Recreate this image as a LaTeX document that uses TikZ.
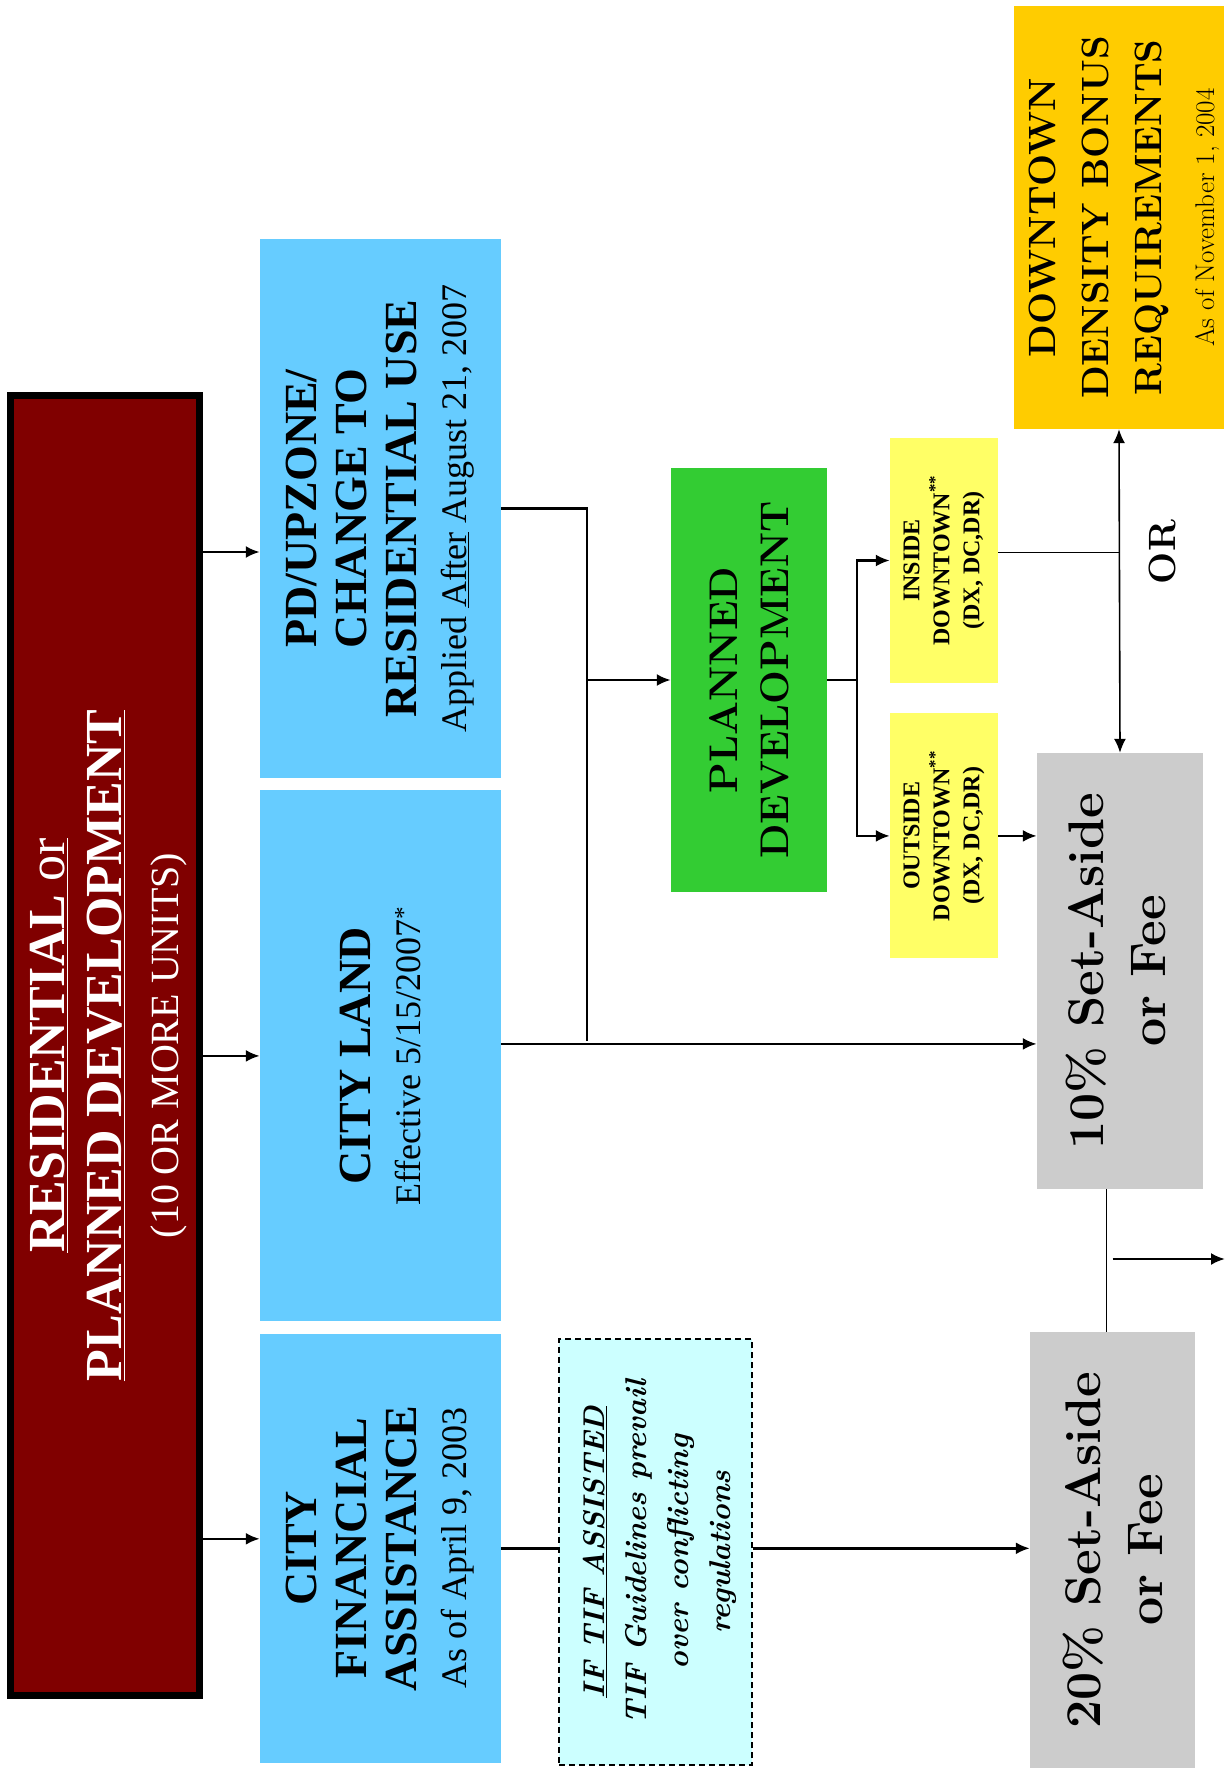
\documentclass[tikz,border=0pt]{standalone}
\usepackage{fontspec}
\newfontfamily\garafont{Liberation Serif}
\usetikzlibrary{arrows.meta,positioning}
\definecolor{residred}{HTML}{800000}
\definecolor{zoneblue}{HTML}{66CCFF}
\definecolor{pdgreen}{HTML}{33CC33}
\definecolor{dtyellow}{HTML}{FFFF66}
\definecolor{bonusorange}{HTML}{FFCC00}
\definecolor{feegray}{HTML}{CCCCCC}
\definecolor{tifcyan}{HTML}{CCFFFF}
\tikzset{
  residnode/.style={draw=black, line width=7pt, fill=residred, inner sep=0pt, minimum width=189pt, minimum height=1300pt},
  bluenode/.style={fill=zoneblue, inner sep=0pt, minimum width=241pt},
  greennode/.style={fill=pdgreen, inner sep=0pt, minimum width=156pt, minimum height=424pt},
  yellownode/.style={fill=dtyellow, inner sep=0pt, minimum width=108pt, minimum height=245pt},
  graynode/.style={fill=feegray, inner sep=0pt, minimum width=166pt, minimum height=436pt},
  orangenode/.style={fill=bonusorange, inner sep=0pt, minimum width=210pt, minimum height=423pt},
  tifnode/.style={draw=black, dashed, dash pattern=on 6pt off 4pt, line width=1.5pt, fill=tifcyan, inner sep=0pt, minimum width=193pt, minimum height=426pt},
  vtext/.style={rotate=90, align=center, inner sep=0pt},
  garatitle/.style={font=\garafont\bfseries\fontsize{46}{50}\selectfont},
  arrowline/.style={-{Latex[length=14pt,width=12pt]}, line width=2.5pt},
  plainline/.style={line width=2.5pt},
  thinline/.style={line width=1.6pt}
}
\newcommand{\subline}[1]{{\mdseries\fontsize{36}{40}\selectfont #1}}
\begin{document}
\begin{tikzpicture}[x=1pt, y=-1pt]
  \useasboundingbox (0,0) rectangle (1225,1769);
  % left column
  \node[residnode] (resid) at (105,1045.5) {};
  \node[xshift=4pt, vtext, text=white, font=\garafont\bfseries\fontsize{52}{57}\selectfont] (residtext) at (resid.center)
    {\underline{RESIDENTIAL {\mdseries or}}\\\underline{PLANNED DEVELOPMENT}\\{\mdseries\fontsize{40}{42}\selectfont (10 OR MORE UNITS)}};
  % blue column
  \node[bluenode, minimum height=539pt] (pdup) at (380.5,508.5) {};
  \node[bluenode, minimum height=531pt, below=12pt of pdup] (cityland) {};
  \node[bluenode, minimum height=429pt, below=12pt of cityland] (cityfin) {};
  \node[vtext, garatitle] (pduptext) at (pdup.center)
    {PD/UPZONE/\\CHANGE TO\\RESIDENTIAL USE\\\subline{Applied \underline{After} August 21, 2007}};
  \node[vtext, garatitle] (citylandtext) at (cityland.center)
    {CITY LAND\\\subline{Effective 5/15/2007\textsuperscript{*}}};
  \node[vtext, garatitle] (cityfintext) at (cityfin.center)
    {CITY\\FINANCIAL\\ASSISTANCE\\\subline{As of April 9, 2003}};
  % middle
  \node[tifnode] (tif) at (655.5,1552) {};
  \node[xshift=4pt, vtext, font=\bfseries\itshape\fontsize{30}{42}\selectfont] (tiftext) at (tif.center)
    {\underline{IF TIF ASSISTED}\\TIF Guidelines prevail\\over conflicting\\regulations};
  \node[greennode] (pd) at (749,680) {};
  \node[vtext, font=\bfseries\fontsize{40}{51}\selectfont] (pdtext) at (pd.center) {PLANNED\\DEVELOPMENT};
  \node[yellownode] (inside) at (944,560.5) {};
  \node[yellownode, below=30pt of inside] (outside) {};
  \node[vtext, font=\garafont\bfseries\fontsize{24}{30}\selectfont] (insidetext) at (inside.center)
    {INSIDE\\DOWNTOWN\textsuperscript{**}\\(DX, DC,DR)};
  \node[vtext, font=\garafont\bfseries\fontsize{24}{30}\selectfont] (outsidetext) at (outside.center)
    {OUTSIDE\\DOWNTOWN\textsuperscript{**}\\(DX, DC,DR)};
  % right column
  \node[orangenode] (bonus) at (1119,217.5) {};
  \node[xshift=5pt, vtext, font=\bfseries\fontsize{38}{53}\selectfont] (bonustext) at (bonus.center)
    {DOWNTOWN\\DENSITY BONUS\\REQUIREMENTS\\{\mdseries\fontsize{27}{30}\selectfont As of November 1, 2004}};
  \node[graynode] (ten) at (1120,971) {};
  \node[xshift=-4pt, vtext, font=\bfseries\fontsize{50}{62}\selectfont] (tentext) at (ten.center) {10\% Set-Aside\\or Fee};
  \node[graynode, minimum width=165pt] (twenty) at (1112.5,1550) {};
  \node[vtext, font=\bfseries\fontsize{50}{62}\selectfont] (twentytext) at (twenty.center) {20\% Set-Aside\\or Fee};
  \node[vtext, font=\bfseries\fontsize{38}{40}\selectfont] (ortext) at (1162,552) {OR};
  % connectors
  \coordinate (pdupin) at ([yshift=-43.5pt]pdup.west);
  \coordinate (finin) at ([yshift=9.5pt]cityfin.west);
  \coordinate (spine) at (587,1041);
  \coordinate (inlink) at ([yshift=8pt]inside.east);
  \coordinate (landout) at ([yshift=12pt]cityland.east);
  \coordinate (exit) at (1225,1259);
  \draw[arrowline] (pdupin -| resid.east) -- (pdupin);
  \draw[arrowline] (cityland.west -| resid.east) -- (cityland.west);
  \draw[arrowline] (finin -| resid.east) -- (finin);
  \draw[plainline] (pdup.east) -| (spine);
  \draw[arrowline] (spine |- pd.west) -- (pd.west);
  \draw[arrowline] (landout) -- (landout -| ten.west);
  \draw[arrowline] (pd.east) -- ++(30,0) |- (inside.west);
  \draw[arrowline] (pd.east) -- ++(30,0) |- (outside.west);
  \draw[arrowline] (outside.east) -- (outside.east -| ten.west);
  \draw[thinline] (inlink) -- (inlink -| bonus.south);
  \draw[thinline, {Latex[length=14pt,width=12pt]}-{Latex[length=14pt,width=12pt]}] (bonus.south) -- (ten.north);
  \draw[plainline] (cityfin.east) -- (cityfin.east -| tif.west);
  \draw[arrowline] (cityfin.east -| tif.east) -- (cityfin.east -| twenty.west);
  \draw[thinline] ([xshift=-6pt]twenty.north) -- ([xshift=-6pt]twenty.north |- ten.south);
  \draw[arrowline] (exit -| twenty.north) -- (exit);
\end{tikzpicture}
\end{document}
